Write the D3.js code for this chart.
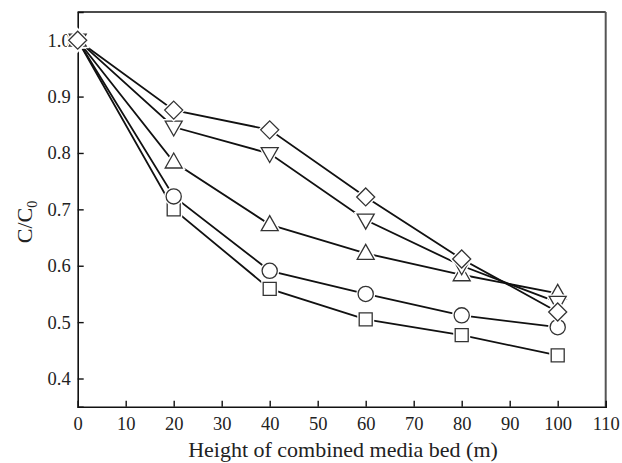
<!DOCTYPE html>
<html>
<head>
<meta charset="utf-8">
<script src="https://cdn.jsdelivr.net/npm/d3@7"></script>
<style>
body { margin: 0; background: #fff; }
text { font-family: "Liberation Serif", "DejaVu Serif", serif; fill: #222; }
</style>
</head>
<body>
<script>

// data
var heights = [0, 20, 40, 60, 80, 100];
var diamondVals  = [1.0, 0.876, 0.841, 0.722, 0.612, 0.518];
var downTriVals  = [1.0, 0.846, 0.799, 0.681, 0.600, 0.535];
var upTriVals    = [1.0, 0.784, 0.673, 0.622, 0.584, 0.551];
var circleVals   = [1.0, 0.723, 0.591, 0.550, 0.512, 0.491];
var squareVals   = [1.0, 0.700, 0.559, 0.505, 0.477, 0.441];
var xTicks = [0, 10, 20, 30, 40, 50, 60, 70, 80, 90, 100, 110];
var yTicks = [0.4, 0.5, 0.6, 0.7, 0.8, 0.9, 1.0];

var series = [
  {name: "square",  vals: squareVals},
  {name: "circle",  vals: circleVals},
  {name: "upTri",   vals: upTriVals},
  {name: "downTri", vals: downTriVals},
  {name: "diamond", vals: diamondVals}
];

var W = 622, H = 463;
var plotL = 77.7, plotR = 605.7, plotT = 12, plotB = 406.7;

var svg = d3.select("body").append("svg")
    .attr("width", W)
    .attr("height", H);

var x = d3.scaleLinear().domain([0, 110]).range([plotL, plotR]);
var y = d3.scaleLinear().domain([0.35, 1.05]).range([plotB, plotT]);

// frame
svg.append("line").attr("x1", plotL).attr("x2", plotR).attr("y1", plotT).attr("y2", plotT)
    .attr("stroke", "#111").attr("stroke-width", 1.6);
svg.append("line").attr("x1", plotR).attr("x2", plotR).attr("y1", plotT).attr("y2", plotB)
    .attr("stroke", "#555").attr("stroke-width", 2);

// axes
var xAxis = d3.axisBottom(x).tickValues(xTicks).tickSize(-6).tickPadding(10)
    .tickFormat(d3.format("d"));
var gx = svg.append("g").attr("transform", "translate(0," + plotB + ")").call(xAxis);

var yAxis = d3.axisLeft(y).tickValues(yTicks).tickSize(-6).tickPadding(7)
    .tickFormat(d3.format(".1f"));
var gy = svg.append("g").attr("transform", "translate(" + plotL + ",0)").call(yAxis);

[gx, gy].forEach(function(g) {
  g.select(".domain").attr("stroke", "#111").attr("stroke-width", 1.6);
  g.selectAll(".tick line").attr("stroke", "#111").attr("stroke-width", 1.4);
  g.selectAll(".tick text").attr("font-size", 18.5).attr("fill", "#222")
    .style("font-family", "Liberation Serif, serif");
});
// no tick marks at the frame corners
gx.selectAll(".tick").filter(function(d) { return d === 0 || d === 110; }).select("line").remove();

// axis titles
svg.append("text")
    .attr("x", 343)
    .attr("y", 457)
    .attr("text-anchor", "middle")
    .attr("font-size", 22)
    .text("Height of combined media bed (m)");

var yl = svg.append("text")
    .attr("transform", "translate(32," + 222 + ") rotate(-90)")
    .attr("text-anchor", "middle")
    .attr("font-size", 22);
yl.append("tspan").text("C/C");
yl.append("tspan").attr("font-size", 14).attr("dy", 5).text("0");

// lines
var line = d3.line()
    .x(function(d, i) { return x(heights[i]); })
    .y(function(d) { return y(d); });

svg.selectAll(".series")
    .data(series)
    .enter().append("path")
    .attr("class", "series")
    .attr("d", function(s) { return line(s.vals); })
    .attr("fill", "none")
    .attr("stroke", "#111")
    .attr("stroke-width", 1.8);

// markers
function markerPath(name) {
  if (name === "square") return "M-6.5,-6.5L6.5,-6.5L6.5,6.5L-6.5,6.5Z";
  if (name === "circle") return d3.symbol().type(d3.symbolCircle).size(Math.PI * 7.6 * 7.6)();
  if (name === "upTri") return "M0,-9L8.5,6L-8.5,6Z";
  if (name === "downTri") return "M0,9L8.5,-6L-8.5,-6Z";
  return "M0,-9L9,0L0,9L-9,0Z";
}

series.forEach(function(s) {
  var g = svg.append("g");
  var pts = s.vals.map(function(v, i) { return {x: heights[i], y: v}; });
  g.selectAll(".halo").data(pts).enter().append("path")
      .attr("d", markerPath(s.name))
      .attr("transform", function(d) { return "translate(" + x(d.x) + "," + y(d.y) + ")"; })
      .attr("fill", "#fff").attr("stroke", "#fff").attr("stroke-width", 4);
  g.selectAll(".mk").data(pts).enter().append("path")
      .attr("d", markerPath(s.name))
      .attr("transform", function(d) { return "translate(" + x(d.x) + "," + y(d.y) + ")"; })
      .attr("fill", "#fff").attr("stroke", "#333").attr("stroke-width", 1.3);
});

</script>
</body>
</html>
